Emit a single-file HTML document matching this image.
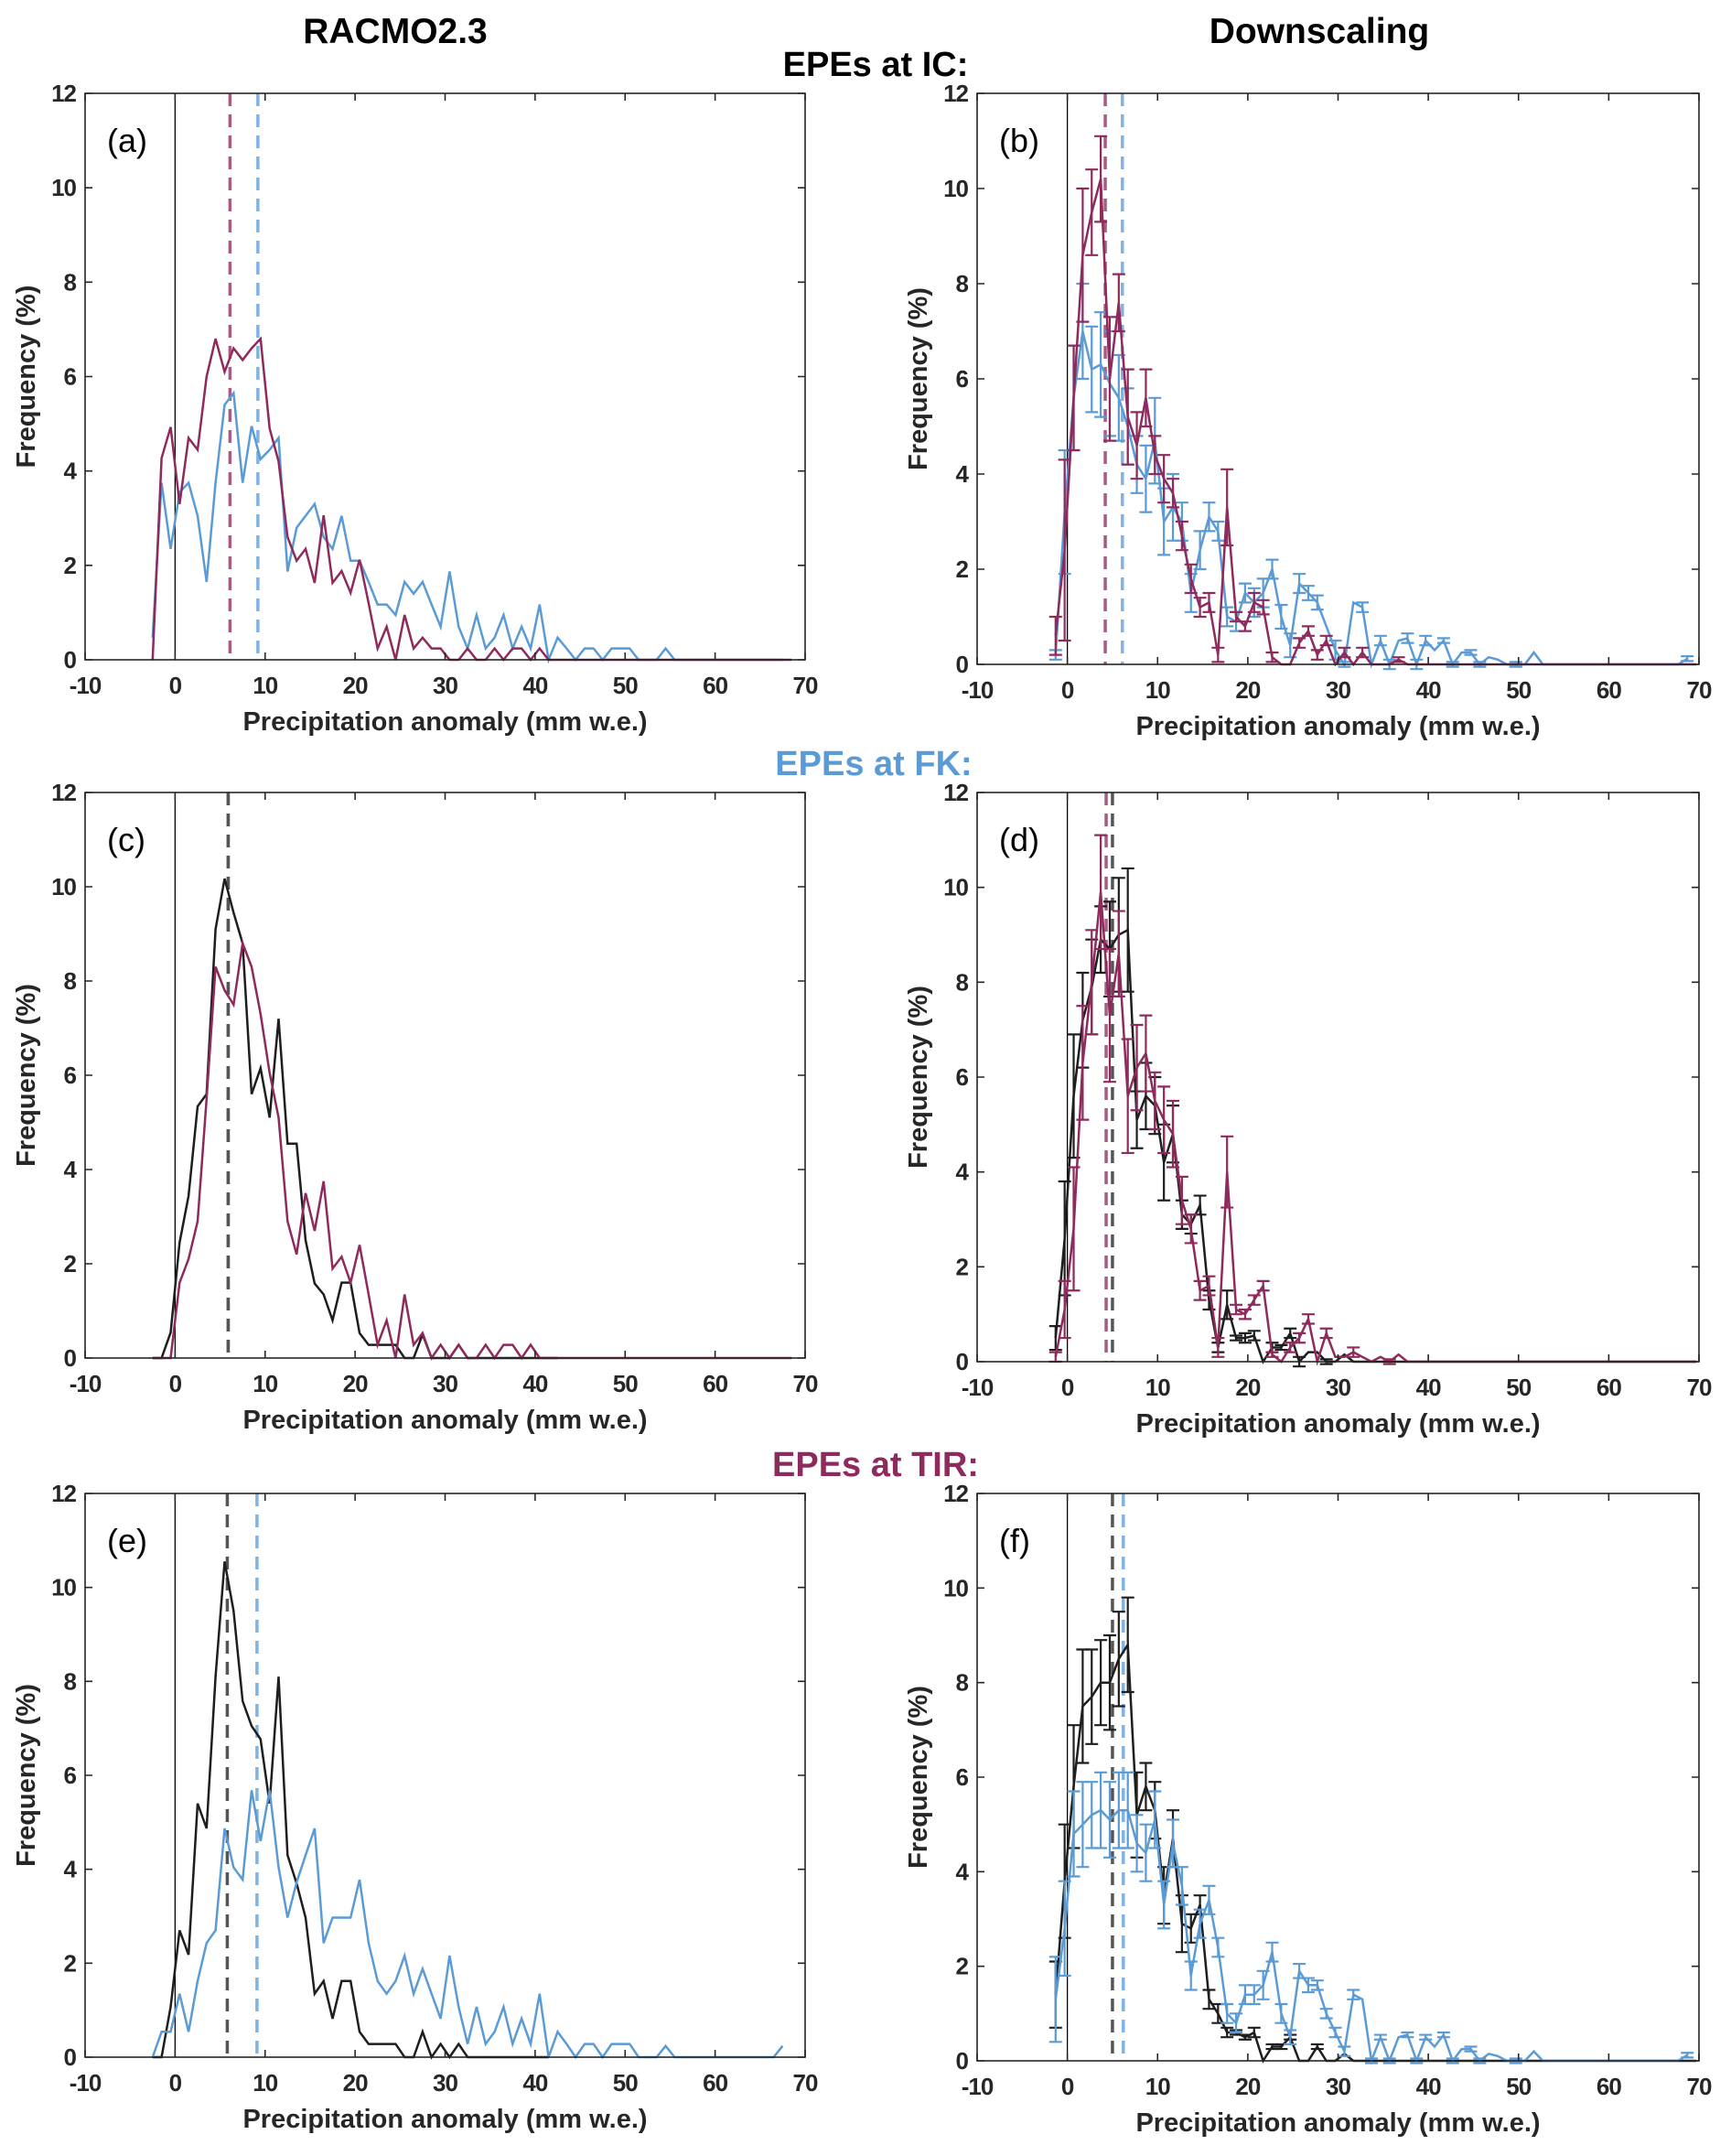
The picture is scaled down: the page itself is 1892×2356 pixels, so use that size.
<!DOCTYPE html>
<html><head><meta charset="utf-8">
<style>
html,body{margin:0;padding:0;background:#fff;}
svg{display:block;font-family:"Liberation Sans",Arial,sans-serif;}
</style></head>
<body>
<svg id="fig" width="1892" height="2356" viewBox="0 0 1892 2356" xmlns="http://www.w3.org/2000/svg">
<text x="432" y="47" font-size="39" font-weight="bold" text-anchor="middle" fill="#000">RACMO2.3</text>
<text x="1442" y="47" font-size="39" font-weight="bold" text-anchor="middle" fill="#000">Downscaling</text>
<text x="957" y="83" font-size="38" font-weight="bold" text-anchor="middle" fill="#000">EPEs at IC:</text>
<text x="955" y="847" font-size="38" font-weight="bold" text-anchor="middle" fill="#5b9bd5">EPEs at FK:</text>
<text x="957" y="1613" font-size="38" font-weight="bold" text-anchor="middle" fill="#8e2a5c">EPEs at TIR:</text>
</svg>
<script>
// ---- data (bin centres start at -2.5 for left panels, -1.5 for right panels, step 1 mm) ----
const xTicks = [-10,0,10,20,30,40,50,60,70];
const yTicks = [0,2,4,6,8,10,12];
const leftStart = -2.5;
const rightStart = -1.3;

const aPurple = [0,4.27,4.93,3.3,4.7,4.45,6.0,6.8,6.1,6.6,6.35,6.6,6.8,4.9,4.2,2.6,2.1,2.35,1.63,3.06,1.63,1.88,1.42,2.12,1.2,0.24,0.7,0,0.95,0.24,0.47,0.24,0.24,0,0,0.24,0,0,0.24,0,0.24,0.24,0,0.24,0,0,0,0,0,0,0,0,0,0,0,0,0,0,0,0,0,0,0,0,0,0,0,0,0,0,0,0];
const aBlue = [0.47,3.75,2.35,3.55,3.75,3.05,1.65,3.75,5.4,5.65,3.75,4.95,4.25,4.45,4.7,1.87,2.8,3.05,3.3,2.6,2.35,3.05,2.1,2.1,1.65,1.17,1.17,0.95,1.65,1.4,1.65,1.17,0.7,1.87,0.7,0.24,0.95,0.24,0.47,0.95,0.24,0.7,0.24,1.17,0,0.47,0.24,0,0.24,0.24,0,0.24,0.24,0.24,0,0,0,0.24,0,0,0,0,0,0,0,0,0,0,0,0,0];
const aMeans = [6.1, 9.2];

const cBlack = [0,0,0.54,2.45,3.44,5.34,5.6,9.1,10.17,9.45,8.8,5.6,6.15,5.1,7.2,4.55,4.55,2.5,1.58,1.35,0.8,1.6,1.6,0.53,0.28,0.28,0.28,0.28,0,0,0.5,0,0,0,0.28,0,0,0,0,0,0,0,0,0,0,0];
const cPurple = [0,0,0,1.6,2.1,2.9,5.5,8.3,7.8,7.5,8.8,8.3,7.3,6.05,5.1,2.9,2.2,3.5,2.7,3.75,1.9,2.15,1.6,2.4,1.35,0.28,0.8,0,1.35,0.28,0.53,0,0.28,0,0.28,0,0,0.28,0,0.28,0.28,0,0.28,0,0,0,0,0,0,0,0,0,0,0,0,0,0,0,0,0,0,0,0,0,0,0,0,0,0,0,0,0];
const cMeans = [5.9, 5.9];

const eBlack = [0,0,1.07,2.7,2.18,5.4,4.87,8.1,10.55,9.5,7.58,7.05,6.77,5.4,8.1,4.3,3.7,2.97,1.35,1.62,0.82,1.62,1.62,0.54,0.28,0.28,0.28,0.28,0,0,0.54,0,0.28,0,0.28,0,0,0,0,0,0,0,0,0,0];
const eBlue = [0,0.54,0.54,1.35,0.54,1.62,2.43,2.7,4.87,4.04,3.78,5.68,4.6,5.68,4.04,2.97,3.72,4.3,4.87,2.43,2.97,2.97,2.97,3.78,2.43,1.62,1.35,1.62,2.16,1.35,1.88,1.35,0.82,2.16,1.07,0.28,1.07,0.28,0.54,1.07,0.28,0.82,0.28,1.35,0,0.54,0.28,0,0.28,0.28,0,0.28,0.28,0.28,0,0,0,0.24,0,0,0,0,0,0,0,0,0,0,0,0,0.24];
const eMeans = [5.8, 9.1];

const bPurple = [0.6,2.4,5.6,8.6,9.5,10.2,6.0,7.6,5.2,4.6,5.6,4.4,3.9,3.6,2.7,1.8,1.2,1.3,0.2,3.3,1.0,0.8,1.3,1.2,0.15,0,0,0.45,0.7,0.2,0.5,0,0.25,0,0.25,0,0,0,0.1,0,0,0,0,0,0,0,0,0,0,0,0,0,0,0,0,0,0,0,0,0,0,0,0,0,0,0,0,0,0,0,0,0];
const bPurpleErr = [0.4,1.9,1.1,1.4,0.9,0.9,1.3,0.6,1.0,0.7,0.6,0.4,0.5,0.3,0.3,0.3,0.2,0.2,0.15,0.8,0.1,0.1,0.2,0.15,0.1,0,0,0.1,0.1,0.1,0.1,0,0.1,0,0.1,0,0,0,0.05];
const bBlue = [0.2,3.2,5.6,7.0,6.2,6.3,5.9,5.6,5.0,4.2,3.9,4.7,3.0,3.3,3.0,1.5,2.4,3.1,2.8,1.0,0.9,1.5,1.3,1.5,2.0,1.0,0.4,1.7,1.5,1.3,0.8,0.3,0,1.3,1.2,0,0.5,0,0.5,0.55,0,0.5,0.3,0.5,0,0.25,0.25,0,0.15,0.1,0,0,0,0.25,0,0,0,0,0,0,0,0,0,0,0,0,0,0,0,0,0.12];
const bBlueErr = [0.1,1.3,1.1,1.0,0.9,1.1,1.1,0.9,0.8,0.6,0.7,0.9,0.7,0.7,0.4,0.4,0.4,0.3,0.2,0.2,0.2,0.2,0.3,0.3,0.2,0.25,0.25,0.2,0.15,0.15,0,0.2,0.05,0,0.1,0,0.1,0.1,0,0.1,0.1,0.1,0,0.05,0.05,0,0.05,0.05,0,0,0,0.05,0,0,0,0,0,0,0,0,0,0,0,0,0,0,0,0,0,0,0.05];
const bMeans = [4.2, 6.1];

const dBlack = [0.5,2.6,5.6,7.2,7.9,8.9,8.7,9.0,9.1,5.1,5.6,5.4,4.2,4.8,3.1,2.9,3.3,1.3,0.3,1.2,0.5,0.5,0.55,0,0.3,0.3,0.6,0,0.2,0.2,0,0,0.15,0,0,0,0,0,0,0,0,0,0,0,0,0,0,0,0,0,0,0,0,0,0,0,0,0,0,0,0,0,0,0,0,0,0,0,0,0,0,0];
const dBlackErr = [0.25,1.2,1.3,1.0,1.0,0.7,1.0,1.2,1.3,0.6,0.7,0.6,0.8,0.6,0.3,0.2,0.2,0.2,0.1,0.3,0.05,0.1,0.1,0,0.1,0.05,0.1,0.1,0,0,0.05];
const dPurple = [0.1,1.1,2.8,6.3,8.0,9.9,7.3,8.6,5.6,6.2,6.5,5.5,5.1,4.8,3.4,2.8,1.5,1.6,0.3,4.0,1.1,1.0,1.3,1.6,0.15,0,0.3,0.5,0.9,0,0.6,0.1,0.1,0.2,0.1,0,0.1,0,0.15,0,0,0,0,0,0,0,0,0,0,0,0,0,0,0,0,0,0,0,0,0,0,0,0,0,0,0,0,0,0,0,0,0];
const dPurpleErr = [0.1,0.6,1.3,1.2,1.1,1.2,1.4,0.9,1.2,0.9,0.8,0.6,0.7,0.7,0.5,0.3,0.2,0.2,0.2,0.75,0.1,0.1,0.1,0.1,0.05,0,0.1,0.1,0.1,0,0.1,0,0,0.1,0,0,0,0.05];
const dMeans = [4.3, 5.0];

const fBlack = [1.4,3.8,5.8,7.5,7.7,8.0,8.0,8.5,8.8,5.2,5.8,5.3,3.5,4.7,2.9,2.8,3.3,1.3,1.0,0.6,0.6,0.5,0.6,0,0.3,0.3,0.5,0,0,0.3,0,0,0.15,0,0,0,0,0,0,0,0,0,0,0,0,0,0,0,0,0,0,0,0,0,0,0,0,0,0,0,0,0,0,0,0,0,0,0,0,0,0,0];
const fBlackErr = [0.7,1.2,1.3,1.2,1.0,0.9,1.0,1.0,1.0,0.9,0.5,0.6,0.6,0.6,0.6,0.3,0.2,0.2,0.2,0.1,0.05,0.05,0.1,0,0.05,0.05,0.05,0,0,0.05];
const fBlue = [1.3,2.8,4.8,5.0,5.2,5.3,5.1,5.3,5.3,4.6,4.4,5.1,3.3,4.6,3.7,1.8,2.9,3.4,2.4,1.0,0.8,1.4,1.4,1.6,2.3,1.0,0.5,1.9,1.6,1.6,1.0,0.6,0.2,1.4,1.3,0,0.5,0,0.5,0.55,0,0.5,0.3,0.55,0,0.25,0.25,0,0.15,0.1,0,0,0,0.2,0,0,0,0,0,0,0,0,0,0,0,0,0,0,0,0,0.12];
const fBlueErr = [0.9,1.0,0.9,0.9,0.7,0.8,0.8,0.8,0.8,0.6,0.6,0.6,0.5,0.5,0.4,0.3,0.3,0.3,0.2,0.2,0.2,0.2,0.2,0.3,0.2,0.2,0.15,0.15,0.15,0.1,0.1,0.1,0.1,0.1,0,0.05,0.05,0.05,0,0.05,0.05,0.05,0,0.05,0.05,0,0.05,0.05,0,0,0,0.05,0,0,0,0,0,0,0,0,0,0,0,0,0,0,0,0,0,0,0.05];
const fMeans = [5.0, 6.2];

const PURPLE = "#8e2a5c", BLUE = "#5b9bd5", BLACK = "#1e1e1e";
const DPURPLE = "#a65c83", DBLUE = "#7fb3e3", DGRAY = "#555555";

const NS = "http://www.w3.org/2000/svg";
const fig = document.getElementById('fig');
function mk(tag, attrs, parent) {
  const e = document.createElementNS(NS, tag);
  for (const k in attrs) e.setAttribute(k, attrs[k]);
  (parent || fig).appendChild(e);
  return e;
}

function panel(cfg) {
  const g = mk('g', {});
  
  
  const L = cfg.left, R = cfg.right, T = cfg.top, B = cfg.bottom;
  const xs = v => L + (v + 10) / 80 * (R - L);
  const ys = v => B - v / 12 * (B - T);

  const zl = mk('line', {x1: xs(0), x2: xs(0), y1: T, y2: B, stroke: '#000', 'stroke-width': 1.3}, g);
  
  

  cfg.means.forEach((m, i) => {
    const ln = mk('line', {x1: xs(m), x2: xs(m), y1: T, y2: B, stroke: cfg.meanColors[i], 'stroke-width': 3.5, 'stroke-dasharray': '14,9'}, g);
    
    
  });

  cfg.series.forEach(s => {
    const sg = mk('g', {}, g);
    
    
    if (s.err) {
      s.vals.forEach((v, i) => {
        const e = s.err[i] || 0;
        if (e <= 0) return;
        const x = xs(s.start + i);
        const cw = 7;
        const eb = mk('path', {d: `M${x},${ys(v - e)}V${ys(v + e)}M${x - cw},${ys(v - e)}H${x + cw}M${x - cw},${ys(v + e)}H${x + cw}`, stroke: s.color, 'stroke-width': 2.2, fill: 'none'}, sg);
        
        
      });
    }
    const pts = s.vals.map((v, i) => xs(s.start + i).toFixed(1) + ',' + ys(v).toFixed(1)).join(' ');
    const pl = mk('polyline', {points: pts, fill: 'none', stroke: s.color, 'stroke-width': 2.5, 'stroke-linejoin': 'miter'}, sg);
    
    
  });

  const box = mk('rect', {x: L, y: T, width: R - L, height: B - T, fill: 'none', stroke: '#262626', 'stroke-width': 1.6}, g);
  
  

  xTicks.forEach(t => {
    const x = xs(t);
    mk('path', {d: `M${x},${B}V${B - 8}M${x},${T}V${T + 8}`, stroke: '#262626', 'stroke-width': 1.6}, g);
    const tl = mk('text', {x: x, y: B + 37, 'font-size': 26, 'font-weight': 'bold', 'text-anchor': 'middle', fill: '#262626', 'letter-spacing': '-1'}, g);
    tl.textContent = t;
    
    
  });
  yTicks.forEach(t => {
    const y = ys(t);
    mk('path', {d: `M${L},${y}H${L + 8}M${R},${y}H${R - 8}`, stroke: '#262626', 'stroke-width': 1.6}, g);
    const tl = mk('text', {x: L - 10, y: y + 9, 'font-size': 26, 'font-weight': 'bold', 'text-anchor': 'end', fill: '#262626', 'letter-spacing': '-1'}, g);
    tl.textContent = t;
    
    
  });

  const xl = mk('text', {x: (L + R) / 2, y: B + 77, 'font-size': 29, 'font-weight': 'bold', 'text-anchor': 'middle', fill: '#262626'}, g);
  xl.textContent = 'Precipitation anomaly (mm w.e.)';
  
  

  const yx = L - 55, yy = (T + B) / 2;
  const yl = mk('text', {x: yx, y: yy, 'font-size': 29, 'font-weight': 'bold', 'text-anchor': 'middle', fill: '#262626', transform: `rotate(-90 ${yx} ${yy})`}, g);
  yl.textContent = 'Frequency (%)';
  
  

  const pl = mk('text', {x: L + 24, y: T + 64, 'font-size': 36, fill: '#000'}, g);
  pl.textContent = '(' + cfg.id + ')';
  
  
}

const LC = {left: 93, right: 880};
const RC = {left: 1068, right: 1857};

panel(Object.assign({id: 'a', top: 102, bottom: 721, means: aMeans, meanColors: [DPURPLE, DBLUE], meanNames: ['tir', 'fk'],
  series: [{name: 'fk', vals: aBlue, start: leftStart, color: BLUE}, {name: 'tir', vals: aPurple, start: leftStart, color: PURPLE}]}, LC));
panel(Object.assign({id: 'b', top: 102, bottom: 726, means: bMeans, meanColors: [DPURPLE, DBLUE], meanNames: ['tir', 'fk'],
  series: [{name: 'fk', vals: bBlue, err: bBlueErr, start: rightStart, color: BLUE}, {name: 'tir', vals: bPurple, err: bPurpleErr, start: rightStart, color: PURPLE}]}, RC));
panel(Object.assign({id: 'c', top: 866, bottom: 1484, means: cMeans, meanColors: [DPURPLE, DGRAY], meanNames: ['tir', 'ic'],
  series: [{name: 'ic', vals: cBlack, start: leftStart, color: BLACK}, {name: 'tir', vals: cPurple, start: leftStart, color: PURPLE}]}, LC));
panel(Object.assign({id: 'd', top: 866, bottom: 1488, means: dMeans, meanColors: [DPURPLE, DGRAY], meanNames: ['tir', 'ic'],
  series: [{name: 'ic', vals: dBlack, err: dBlackErr, start: rightStart, color: BLACK}, {name: 'tir', vals: dPurple, err: dPurpleErr, start: rightStart, color: PURPLE}]}, RC));
panel(Object.assign({id: 'e', top: 1632, bottom: 2248, means: eMeans, meanColors: [DGRAY, DBLUE], meanNames: ['ic', 'fk'],
  series: [{name: 'ic', vals: eBlack, start: leftStart, color: BLACK}, {name: 'fk', vals: eBlue, start: leftStart, color: BLUE}]}, LC));
panel(Object.assign({id: 'f', top: 1632, bottom: 2252, means: fMeans, meanColors: [DGRAY, DBLUE], meanNames: ['ic', 'fk'],
  series: [{name: 'ic', vals: fBlack, err: fBlackErr, start: rightStart, color: BLACK}, {name: 'fk', vals: fBlue, err: fBlueErr, start: rightStart, color: BLUE}]}, RC));
</script>
</body></html>
